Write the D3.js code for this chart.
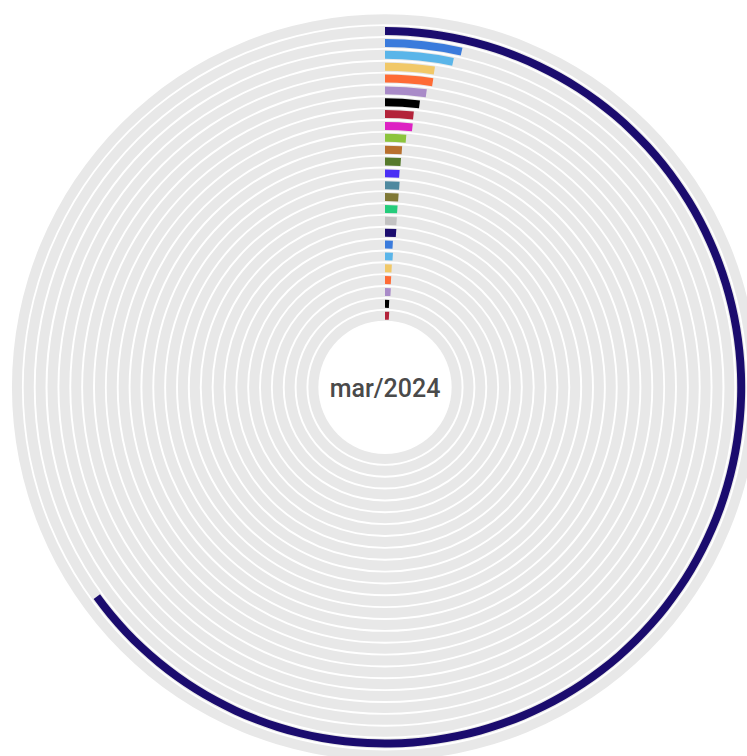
<!DOCTYPE html>
<html>
<head>
<meta charset="utf-8">
<script src="https://cdn.jsdelivr.net/npm/d3@7"></script>
<style>
  html, body { margin: 0; padding: 0; background: #ffffff; }
  svg { display: block; }
</style>
</head>
<body>
<svg id="chart" width="747" height="756"></svg>
<script>
// Radial bar chart: one ring per category, bars run clockwise from 12 o'clock.
const centerLabel = "mar/2024";

// Categories from the outermost ring to the innermost one.
const categories = [
  "C01", "C02", "C03", "C04", "C05", "C06", "C07", "C08", "C09",
  "C10", "C11", "C12", "C13", "C14", "C15", "C16", "C17", "C18",
  "C19", "C20", "C21", "C22", "C23", "C24", "C25"
];

// Share of the full circle (0–100) for each category.
const values = [
  65.0, 3.57, 3.28, 2.46, 2.47, 2.22, 1.93, 1.66, 1.67,
  1.34, 1.13, 1.11, 1.07, 1.13, 1.12, 1.10, 1.11, 1.14,
  0.86, 0.94, 0.89, 0.89, 0.94, 0.77, 0.89
];

// Colour cycle used for the rings.
const palette = [
  "#1b0c6e", "#3a7bdc", "#5ab5e9", "#f1c868", "#fe6b35", "#a98bc8",
  "#000000", "#b3233a", "#dd22c3", "#8cc43d", "#b8702e", "#567a2c",
  "#4a2ff5", "#4e899f", "#7f7835", "#24cc7b", "#c2c2c2"
];

const width = 747, height = 756;
const cx = 385, cy = 387.3;
const outerEdge = 374, innerEdge = 65.7;
const gap = 1.9;     // white space between tracks
const barInset = 1;  // grey margin left on each side of a bar

const svg = d3.select("#chart");
const g = svg.append("g").attr("transform", `translate(${cx},${cy})`);

// One extra empty ring sits outside the outermost category.
const ringKeys = ["__outer__", ...categories];

const r = d3.scaleBand()
  .domain(ringKeys)
  .range([outerEdge, innerEdge]);

const angle = d3.scaleLinear()
  .domain([0, 100])
  .range([0, 2 * Math.PI]);

const color = d3.scaleOrdinal()
  .domain(categories)
  .range(categories.map((_, i) => palette[i % palette.length]));

const arc = d3.arc();

// Background tracks
g.append("g").selectAll("path")
  .data(ringKeys)
  .join("path")
  .attr("fill", "#e8e8e8")
  .attr("d", k => arc({
    innerRadius: r(k) + gap / 2,
    outerRadius: r(k) + r.bandwidth() - gap / 2,
    startAngle: 0,
    endAngle: 2 * Math.PI
  }));

// Value bars
const rows = categories.map((c, i) => ({ key: c, value: values[i] }));
g.append("g").selectAll("path")
  .data(rows)
  .join("path")
  .attr("fill", d => color(d.key))
  .attr("d", d => arc({
    innerRadius: r(d.key) + gap / 2 + barInset,
    outerRadius: r(d.key) + r.bandwidth() - gap / 2 - barInset,
    startAngle: angle(0),
    endAngle: angle(d.value)
  }));

// Centre label
g.append("text")
  .attr("text-anchor", "middle")
  .attr("y", 9.4)
  .attr("font-family", "Roboto, sans-serif")
  .attr("font-size", 25)
  .attr("font-weight", 500)
  .attr("fill", "#4a4a4a")
  .text(centerLabel);
</script>
</body>
</html>
